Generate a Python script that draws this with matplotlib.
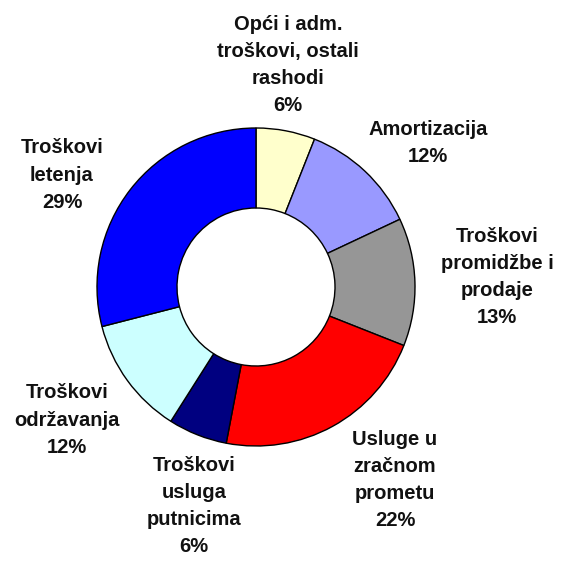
import matplotlib.pyplot as plt

# udjeli troškova (%)
labels = ["Opći i adm.\ntroškovi, ostali\nrashodi", "Amortizacija",
          "Troškovi\npromidžbe i\nprodaje", "Usluge u\nzračnom\nprometu",
          "Troškovi\nusluga\nputnicima", "Troškovi\nodržavanja",
          "Troškovi\nletenja"]
values = [6, 12, 13, 22, 6, 12, 29]
colors = ["#FFFFCC", "#9999FF", "#969696", "#FF0000", "#000080",
          "#CCFFFF", "#0000FF"]
# položaji oznaka (piksel, y od vrha)
label_pos = [(288, 65), (428, 143), (497, 277), (395, 480),
             (194, 506), (67, 420), (62, 175)]

plt.rcParams['font.family'] = ['Liberation Sans', 'DejaVu Sans']

fig = plt.figure(figsize=(5.61, 5.61), dpi=100)
ax = fig.add_axes([0, 0, 1, 1])

ax.pie(values, colors=colors, startangle=90, counterclock=False,
       center=(256, 561 - 287), radius=159,
       wedgeprops=dict(width=80, edgecolor='black', linewidth=1.0))
ax.set_xlim(0, 561)
ax.set_ylim(0, 561)
ax.set_aspect('equal')
ax.axis('off')

for lab, v, (x, y) in zip(labels, values, label_pos):
    ax.text(x, 561 - y, f"{lab}\n{v}%", ha='center', va='center',
            fontsize=14.5, fontweight='bold', linespacing=1.55,
            color='#111111')

fig.savefig("out.png", dpi=100)
